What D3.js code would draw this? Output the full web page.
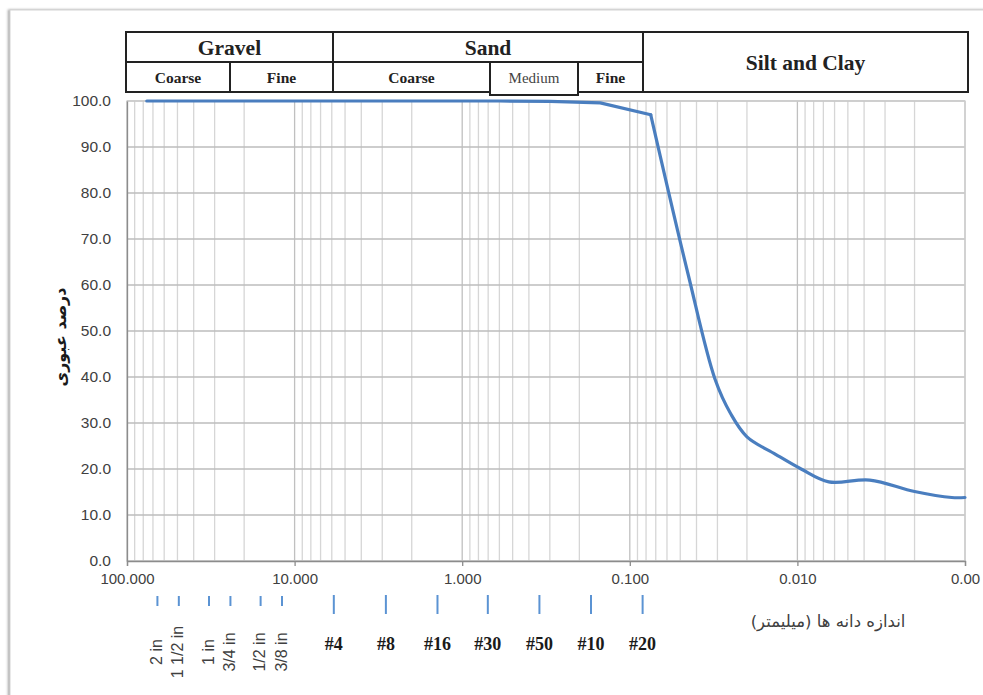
<!DOCTYPE html>
<html>
<head>
<meta charset="utf-8">
<script src="https://cdn.jsdelivr.net/npm/d3@7/dist/d3.min.js"></script>
<style>
  body { margin: 0; background: #fff; }
  svg { display: block; }
</style>
</head>
<body>
<svg id="chart" width="983" height="695"></svg>
<script>
// ---- Data: grain-size distribution (sieve + hydrometer) ----
const sieveSizes   = [76.2, 50.8, 38.1, 25.4, 19.05, 12.7, 9.525, 4.75, 2.36, 1.18, 0.6, 0.3, 0.15, 0.075];
const sievePassing = [100, 100, 100, 100, 100, 100, 100, 100, 100, 100, 100, 99.9, 99.6, 97.0];

const hydroSizes   = [0.075, 0.045, 0.031, 0.025, 0.020, 0.0135, 0.0095, 0.0065, 0.0037, 0.0020, 0.0012, 0.001];
const hydroPassing = [97.0, 62.5, 39.5, 32.0, 27.0, 23.2, 20.0, 17.2, 17.6, 15.1, 13.8, 13.8];

// Axis ticks
const xTickValues = [100, 10, 1, 0.1, 0.01, 0.001];
const xTickLabels = ["100.000", "10.000", "1.000", "0.100", "0.010", "0.00"];
const yTickValues = [0, 10, 20, 30, 40, 50, 60, 70, 80, 90, 100];

// Sieve annotations under the axis
const inchSieveSizes  = [50.8, 38.1, 25.4, 19.05, 12.7, 9.525];
const inchSieveLabels = ["2 in", "1 1/2 in", "1 in", "3/4 in", "1/2 in", "3/8 in"];
const meshSieveSizes  = [4.75, 2.36, 1.18, 0.6, 0.3, 0.15, 0.075];
const meshSieveLabels = ["#4", "#8", "#16", "#30", "#50", "#10", "#20"];

// Classification header
const headerTop    = ["Gravel", "Sand"];
const headerBottom = ["Coarse", "Fine", "Coarse", "Medium", "Fine"];
const headerRight  = "Silt and Clay";

const yTitle = "درصد عبوری";
const xTitle = "اندازه دانه ها (میلیمتر)";

// ---- Layout ----
const plot = { left: 127, right: 965, top: 101, bottom: 561 };
const blue = "#4a7ebf";
const markBlue = "#5b93d3";

const svg = d3.select("#chart");

// outer frame with a soft shadow
const defs = svg.append("defs");
const sh = defs.append("filter").attr("id", "shadow")
  .attr("x", "-5%").attr("y", "-5%").attr("width", "110%").attr("height", "110%");
sh.append("feDropShadow").attr("dx", -1.5).attr("dy", 0)
  .attr("stdDeviation", 1.2).attr("flood-color", "#8a8a8a").attr("flood-opacity", 0.8);

svg.append("rect")
  .attr("x", 10).attr("y", 10).attr("width", 1000).attr("height", 720)
  .attr("fill", "#fff").attr("stroke", "#d4d4d4").attr("stroke-width", 1)
  .attr("filter", "url(#shadow)");

// ---- Scales ----
const x = d3.scaleLog().domain([100, 0.001]).range([plot.left, plot.right]);
const y = d3.scaleLinear().domain([0, 100]).range([plot.bottom, plot.top]);
// the sieve annotation band sits on its own, slightly wider log scale
const xSieve = d3.scaleLog().domain([100, 0.001]).range([107, 964]);

// ---- Grid ----
const minorGrid = [];
for (let e = -3; e < 2; e++) {
  for (let k = 2; k <= 9; k++) minorGrid.push(k * Math.pow(10, e));
}
const g = svg.append("g");

g.selectAll("line.vminor").data(minorGrid).join("line")
  .attr("x1", d => x(d)).attr("x2", d => x(d))
  .attr("y1", plot.top).attr("y2", plot.bottom)
  .attr("stroke", "#d6d6d6").attr("stroke-width", 1.3);

g.selectAll("line.vmajor").data(xTickValues).join("line")
  .attr("x1", d => x(d)).attr("x2", d => x(d))
  .attr("y1", plot.top).attr("y2", plot.bottom)
  .attr("stroke", "#c0c0c0").attr("stroke-width", 1.3);

g.selectAll("line.h").data(yTickValues).join("line")
  .attr("x1", plot.left).attr("x2", plot.right)
  .attr("y1", d => y(d)).attr("y2", d => y(d))
  .attr("stroke", "#bdbdbd").attr("stroke-width", 1.3);

g.append("rect")
  .attr("x", plot.left).attr("y", plot.top)
  .attr("width", plot.right - plot.left).attr("height", plot.bottom - plot.top)
  .attr("fill", "none").attr("stroke", "#cfcfcf").attr("stroke-width", 1.3);

// ---- Axes ----
const fontSans = "'Liberation Sans', Arial, sans-serif";
const fontSerif = "'Liberation Serif', 'Times New Roman', serif";

const xAxis = svg.append("g")
  .attr("transform", `translate(0,${plot.bottom})`)
  .call(d3.axisBottom(x).tickValues(xTickValues)
    .tickFormat((d, i) => xTickLabels[i]).tickSize(5).tickPadding(7));
xAxis.select(".domain").attr("stroke", "#8c8c8c").attr("stroke-width", 1.3);
xAxis.selectAll(".tick line").attr("stroke", "#8c8c8c").attr("stroke-width", 1.3);
xAxis.selectAll(".tick text")
  .attr("fill", "#404040").style("font-family", fontSans).style("font-size", "15px");

const yAxis = svg.append("g")
  .attr("transform", `translate(${plot.left},0)`)
  .call(d3.axisLeft(y).tickValues(yTickValues)
    .tickFormat(d3.format(".1f")).tickSize(0).tickPadding(16));
yAxis.select(".domain").attr("stroke", "#8c8c8c").attr("stroke-width", 1.3);
yAxis.selectAll(".tick text")
  .attr("fill", "#404040").style("font-family", fontSans).style("font-size", "15.5px");

// ---- Curves ----
svg.append("path")
  .datum(d3.zip(sieveSizes, sievePassing))
  .attr("d", d3.line().x(d => x(d[0])).y(d => y(d[1])).curve(d3.curveLinear))
  .attr("fill", "none").attr("stroke", blue).attr("stroke-width", 3.2)
  .attr("stroke-linejoin", "round").attr("stroke-linecap", "round");

svg.append("path")
  .datum(d3.zip(hydroSizes, hydroPassing))
  .attr("d", d3.line().x(d => x(d[0])).y(d => y(d[1])).curve(d3.curveCatmullRom.alpha(0.5)))
  .attr("fill", "none").attr("stroke", blue).attr("stroke-width", 3.2)
  .attr("stroke-linejoin", "round").attr("stroke-linecap", "round");

// ---- Axis titles ----
svg.append("text")
  .attr("transform", `translate(66,${(plot.top + plot.bottom) / 2 + 6}) rotate(-90)`)
  .attr("text-anchor", "middle")
  .style("font-family", "'DejaVu Sans', sans-serif").style("font-size", "16px")
  .style("font-weight", "bold").attr("fill", "#1a1a1a")
  .text(yTitle);

svg.append("text")
  .attr("x", 828).attr("y", 627)
  .attr("text-anchor", "middle")
  .style("font-family", "'DejaVu Sans', sans-serif").style("font-size", "16.5px")
  .attr("fill", "#404040")
  .text(xTitle);

// ---- Sieve marks and labels ----
const sg = svg.append("g");
sg.selectAll("line.inch").data(inchSieveSizes).join("line")
  .attr("x1", d => xSieve(d)).attr("x2", d => xSieve(d))
  .attr("y1", 596).attr("y2", 606)
  .attr("stroke", markBlue).attr("stroke-width", 2);

sg.selectAll("line.mesh").data(meshSieveSizes).join("line")
  .attr("x1", d => xSieve(d)).attr("x2", d => xSieve(d))
  .attr("y1", 595).attr("y2", 614)
  .attr("stroke", markBlue).attr("stroke-width", 2);

sg.selectAll("text.inch").data(inchSieveSizes).join("text")
  .attr("transform", d => `translate(${xSieve(d) - 1},652) rotate(-90)`)
  .attr("text-anchor", "middle").attr("dy", "0.35em")
  .style("font-family", fontSans).style("font-size", "16px").attr("fill", "#404040")
  .text((d, i) => inchSieveLabels[i]);

sg.selectAll("text.mesh").data(meshSieveSizes).join("text")
  .attr("x", d => xSieve(d)).attr("y", 650)
  .attr("text-anchor", "middle")
  .style("font-family", fontSerif).style("font-size", "18px")
  .style("font-weight", "bold").attr("fill", "#1a1a1a")
  .text((d, i) => meshSieveLabels[i]);

// ---- Classification header table ----
const hb = { top: 32, mid: 62, bottom: 92 };
const topCols = [126, 333, 643];          // Gravel | Sand edges
const bottomCols = [126, 230, 333, 490, 578, 643];
const rightEdge = 968;
const ht = svg.append("g");
const stroke = "#222";

ht.append("rect").attr("x", 126).attr("y", hb.top)
  .attr("width", rightEdge - 126).attr("height", hb.bottom - hb.top)
  .attr("fill", "#fff").attr("stroke", stroke).attr("stroke-width", 2);
ht.append("line").attr("x1", 126).attr("x2", 643).attr("y1", hb.mid).attr("y2", hb.mid)
  .attr("stroke", stroke).attr("stroke-width", 2);
ht.selectAll("line.tc").data(topCols.slice(1)).join("line")
  .attr("x1", d => d).attr("x2", d => d).attr("y1", hb.top).attr("y2", hb.bottom)
  .attr("stroke", stroke).attr("stroke-width", 2);
ht.selectAll("line.bc").data([230, 578]).join("line")
  .attr("x1", d => d).attr("x2", d => d).attr("y1", hb.mid).attr("y2", hb.bottom)
  .attr("stroke", stroke).attr("stroke-width", 2);
// the "Medium" cell is a box of its own that drops slightly below the table
ht.append("rect").attr("x", 490).attr("y", hb.mid)
  .attr("width", 88).attr("height", 33)
  .attr("fill", "#fff").attr("stroke", stroke).attr("stroke-width", 2);

ht.selectAll("text.top").data(headerTop).join("text")
  .attr("x", (d, i) => (topCols[i] + topCols[i + 1]) / 2).attr("y", 55)
  .attr("text-anchor", "middle")
  .style("font-family", fontSerif).style("font-size", "21.5px").style("font-weight", "bold")
  .attr("fill", "#222").text(d => d);

ht.selectAll("text.bottom").data(headerBottom).join("text")
  .attr("x", (d, i) => (bottomCols[i] + bottomCols[i + 1]) / 2).attr("y", 83)
  .attr("text-anchor", "middle")
  .style("font-family", fontSerif)
  .style("font-size", d => d === "Medium" ? "15px" : "15.5px")
  .style("font-weight", d => d === "Medium" ? "normal" : "bold")
  .attr("fill", d => d === "Medium" ? "#444" : "#222").text(d => d);

ht.append("text")
  .attr("x", (643 + rightEdge) / 2).attr("y", 70)
  .attr("text-anchor", "middle")
  .style("font-family", fontSerif).style("font-size", "21.5px").style("font-weight", "bold")
  .attr("fill", "#222").text(headerRight);
</script>
</body>
</html>
